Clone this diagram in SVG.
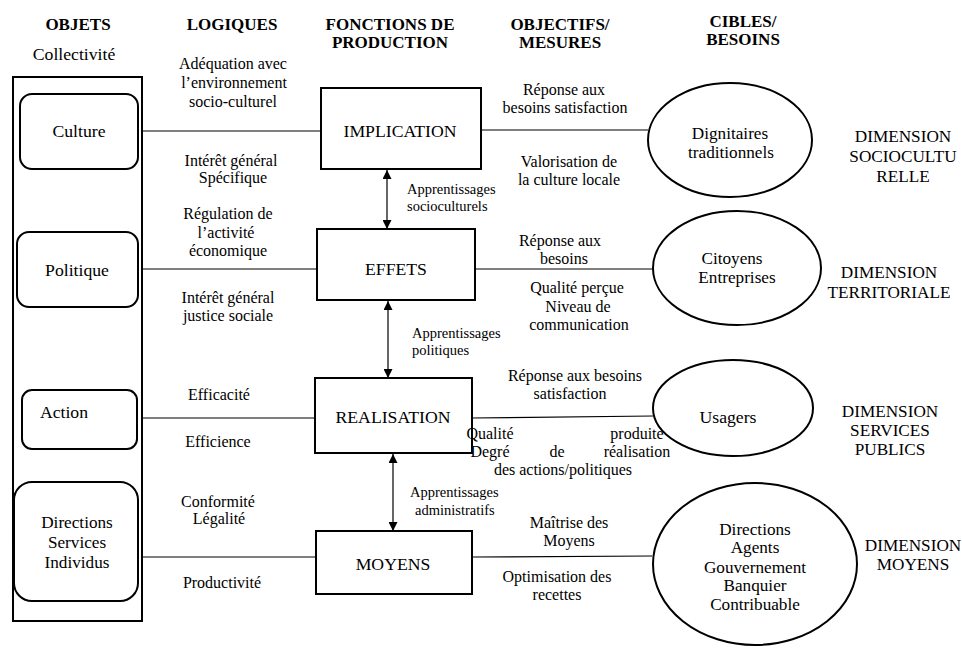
<svg xmlns="http://www.w3.org/2000/svg" width="962" height="648" viewBox="0 0 962 648">
<defs>
<style>
text{font-family:'Liberation Serif','Times New Roman','DejaVu Serif',serif;fill:#000;}
.h{font-size:17px;font-weight:bold;text-anchor:middle;}
.n{font-size:17.7px;text-anchor:middle;}
.e{font-size:17.2px;text-anchor:middle;}
.l{font-size:16px;text-anchor:middle;}
.a{font-size:14.5px;}
.d{font-size:17.2px;text-anchor:middle;}
.box{fill:#fff;stroke:#000;stroke-width:2;}
.ell{fill:#fff;stroke:#000;stroke-width:2;}
.ln{stroke:#000;stroke-width:1.2;fill:none;}
</style>
<marker id="ah" viewBox="0 0 10 10" refX="10" refY="5" markerUnits="userSpaceOnUse" markerWidth="9" markerHeight="9" orient="auto-start-reverse">
<path d="M0,0 L10,5 L0,10 z" fill="#000"/>
</marker>
</defs>
<rect width="962" height="648" fill="#fff"/>

<g id="headers">
<text class="h" x="78" y="30">OBJETS</text>
<text class="n" x="74" y="60">Collectivité</text>
<text class="h" x="232" y="30">LOGIQUES</text>
<text class="h" x="390" y="30">FONCTIONS DE</text>
<text class="h" x="390" y="48">PRODUCTION</text>
<text class="h" x="560" y="30">OBJECTIFS/</text>
<text class="h" x="560" y="48">MESURES</text>
<text class="h" x="743" y="27">CIBLES/</text>
<text class="h" x="743" y="45">BESOINS</text>
</g>

<g id="connectors">
<line class="ln" x1="142" y1="131" x2="321" y2="131"/>
<line class="ln" x1="481" y1="130" x2="648" y2="130"/>
<line class="ln" x1="142" y1="269" x2="317" y2="269"/>
<line class="ln" x1="475" y1="269" x2="653" y2="269"/>
<line class="ln" x1="142" y1="418" x2="315" y2="418"/>
<line class="ln" x1="472" y1="418" x2="653" y2="416"/>
<line class="ln" x1="142" y1="557" x2="316" y2="557"/>
<line class="ln" x1="472" y1="557" x2="652" y2="556"/>
<line class="ln" x1="387" y1="170" x2="387" y2="229" marker-start="url(#ah)" marker-end="url(#ah)"/>
<line class="ln" x1="388" y1="301" x2="388" y2="378" marker-start="url(#ah)" marker-end="url(#ah)"/>
<line class="ln" x1="393" y1="454" x2="393" y2="531" marker-start="url(#ah)" marker-end="url(#ah)"/>
</g>

<g id="objets">
<rect x="13" y="77" width="129" height="544" fill="none" stroke="#000" stroke-width="2"/>
</g>
<g id="culture">
<rect class="box" x="20" y="94" width="118" height="75" rx="12"/>
<text class="n" x="79" y="137">Culture</text>
</g>
<g id="politique">
<rect class="box" x="17" y="232" width="121" height="75" rx="12"/>
<text class="n" x="77" y="276">Politique</text>
</g>
<g id="action">
<rect class="box" x="22" y="390" width="115" height="59" rx="10"/>
<text class="n" x="64" y="418">Action</text>
</g>
<g id="directions">
<rect class="box" x="14" y="482" width="124" height="119" rx="18"/>
<text class="e" x="77" y="528">Directions</text>
<text class="e" x="77" y="548">Services</text>
<text class="e" x="77" y="568">Individus</text>
</g>

<g id="logiques">
<text class="l" x="233" y="69">Adéquation avec</text>
<text class="l" x="234" y="88">l’environnement</text>
<text class="l" x="233" y="107">socio-culturel</text>
<text class="l" x="231" y="166">Intérêt général</text>
<text class="l" x="233" y="183">Spécifique</text>
<text class="l" x="228" y="219">Régulation de</text>
<text class="l" x="226" y="238">l’activité</text>
<text class="l" x="228" y="256">économique</text>
<text class="l" x="228" y="303">Intérêt général</text>
<text class="l" x="228" y="321">justice sociale</text>
<text class="l" x="219" y="400">Efficacité</text>
<text class="l" x="218" y="447">Efficience</text>
<text class="l" x="218" y="507">Conformité</text>
<text class="l" x="219" y="524">Légalité</text>
<text class="l" x="222" y="588">Productivité</text>
</g>

<g id="implication">
<rect class="box" x="321" y="88" width="160" height="81"/>
<text class="n" x="400" y="137">IMPLICATION</text>
</g>
<g id="effets">
<rect class="box" x="317" y="229" width="158" height="71"/>
<text class="n" x="396" y="275">EFFETS</text>
</g>
<g id="realisation">
<rect class="box" x="315" y="378" width="157" height="75"/>
<text class="n" x="393" y="423">REALISATION</text>
</g>
<g id="moyens">
<rect class="box" x="316" y="531" width="156" height="63"/>
<text class="n" x="393" y="570">MOYENS</text>
</g>

<g id="apprentissages">
<text class="a" x="407" y="194">Apprentissages</text>
<text class="a" x="407" y="211">socioculturels</text>
<text class="a" x="412" y="338">Apprentissages</text>
<text class="a" x="412" y="355">politiques</text>
<text class="a" x="410" y="497">Apprentissages</text>
<text class="a" x="415" y="515">administratifs</text>
</g>

<g id="objectifs">
<text class="l" x="564" y="95">Réponse aux</text>
<text class="l" x="565" y="113">besoins satisfaction</text>
<text class="l" x="569" y="167">Valorisation de</text>
<text class="l" x="569" y="185">la culture locale</text>
<text class="l" x="560" y="246">Réponse aux</text>
<text class="l" x="564" y="264">besoins</text>
<text class="l" x="577" y="293">Qualité perçue</text>
<text class="l" x="578" y="312">Niveau de</text>
<text class="l" x="579" y="330">communication</text>
<text class="l" x="575" y="381">Réponse aux besoins</text>
<text class="l" x="570" y="399">satisfaction</text>
<text class="l" x="490" y="439" text-anchor="start">Qualité</text>
<text class="l" x="637" y="439" text-anchor="end">produite</text>
<text class="l" x="490" y="457" text-anchor="start">Degré</text>
<text class="l" x="557" y="457">de</text>
<text class="l" x="637" y="457" text-anchor="end">réalisation</text>
<text class="l" x="563" y="475">des actions/politiques</text>
<text class="l" x="569" y="528">Maîtrise des</text>
<text class="l" x="569" y="546">Moyens</text>
<text class="l" x="557" y="582">Optimisation des</text>
<text class="l" x="557" y="600">recettes</text>
</g>

<g id="dignitaires">
<ellipse class="ell" cx="730" cy="140" rx="82" ry="57"/>
<text class="e" x="730" y="139">Dignitaires</text>
<text class="e" x="731" y="158">traditionnels</text>
</g>
<g id="citoyens">
<ellipse class="ell" cx="737" cy="268" rx="84" ry="57"/>
<text class="e" x="732" y="264">Citoyens</text>
<text class="e" x="737" y="283">Entreprises</text>
</g>
<g id="usagers">
<ellipse class="ell" cx="733" cy="408" rx="80" ry="48"/>
<text class="n" x="728" y="423">Usagers</text>
</g>
<g id="directions-agents">
<ellipse class="ell" cx="755" cy="564" rx="102" ry="81"/>
<text class="e" x="755" y="535">Directions</text>
<text class="e" x="755" y="553">Agents</text>
<text class="e" x="755" y="573">Gouvernement</text>
<text class="e" x="755" y="591">Banquier</text>
<text class="e" x="755" y="610">Contribuable</text>
</g>

<g id="dimensions">
<text class="d" x="903" y="142">DIMENSION</text>
<text class="d" x="903" y="162">SOCIOCULTU</text>
<text class="d" x="903" y="182">RELLE</text>
<text class="d" x="889" y="278">DIMENSION</text>
<text class="d" x="889" y="298">TERRITORIALE</text>
<text class="d" x="890" y="417">DIMENSION</text>
<text class="d" x="890" y="436">SERVICES</text>
<text class="d" x="890" y="455">PUBLICS</text>
<text class="d" x="913" y="551">DIMENSION</text>
<text class="d" x="913" y="570">MOYENS</text>
</g>
</svg>
